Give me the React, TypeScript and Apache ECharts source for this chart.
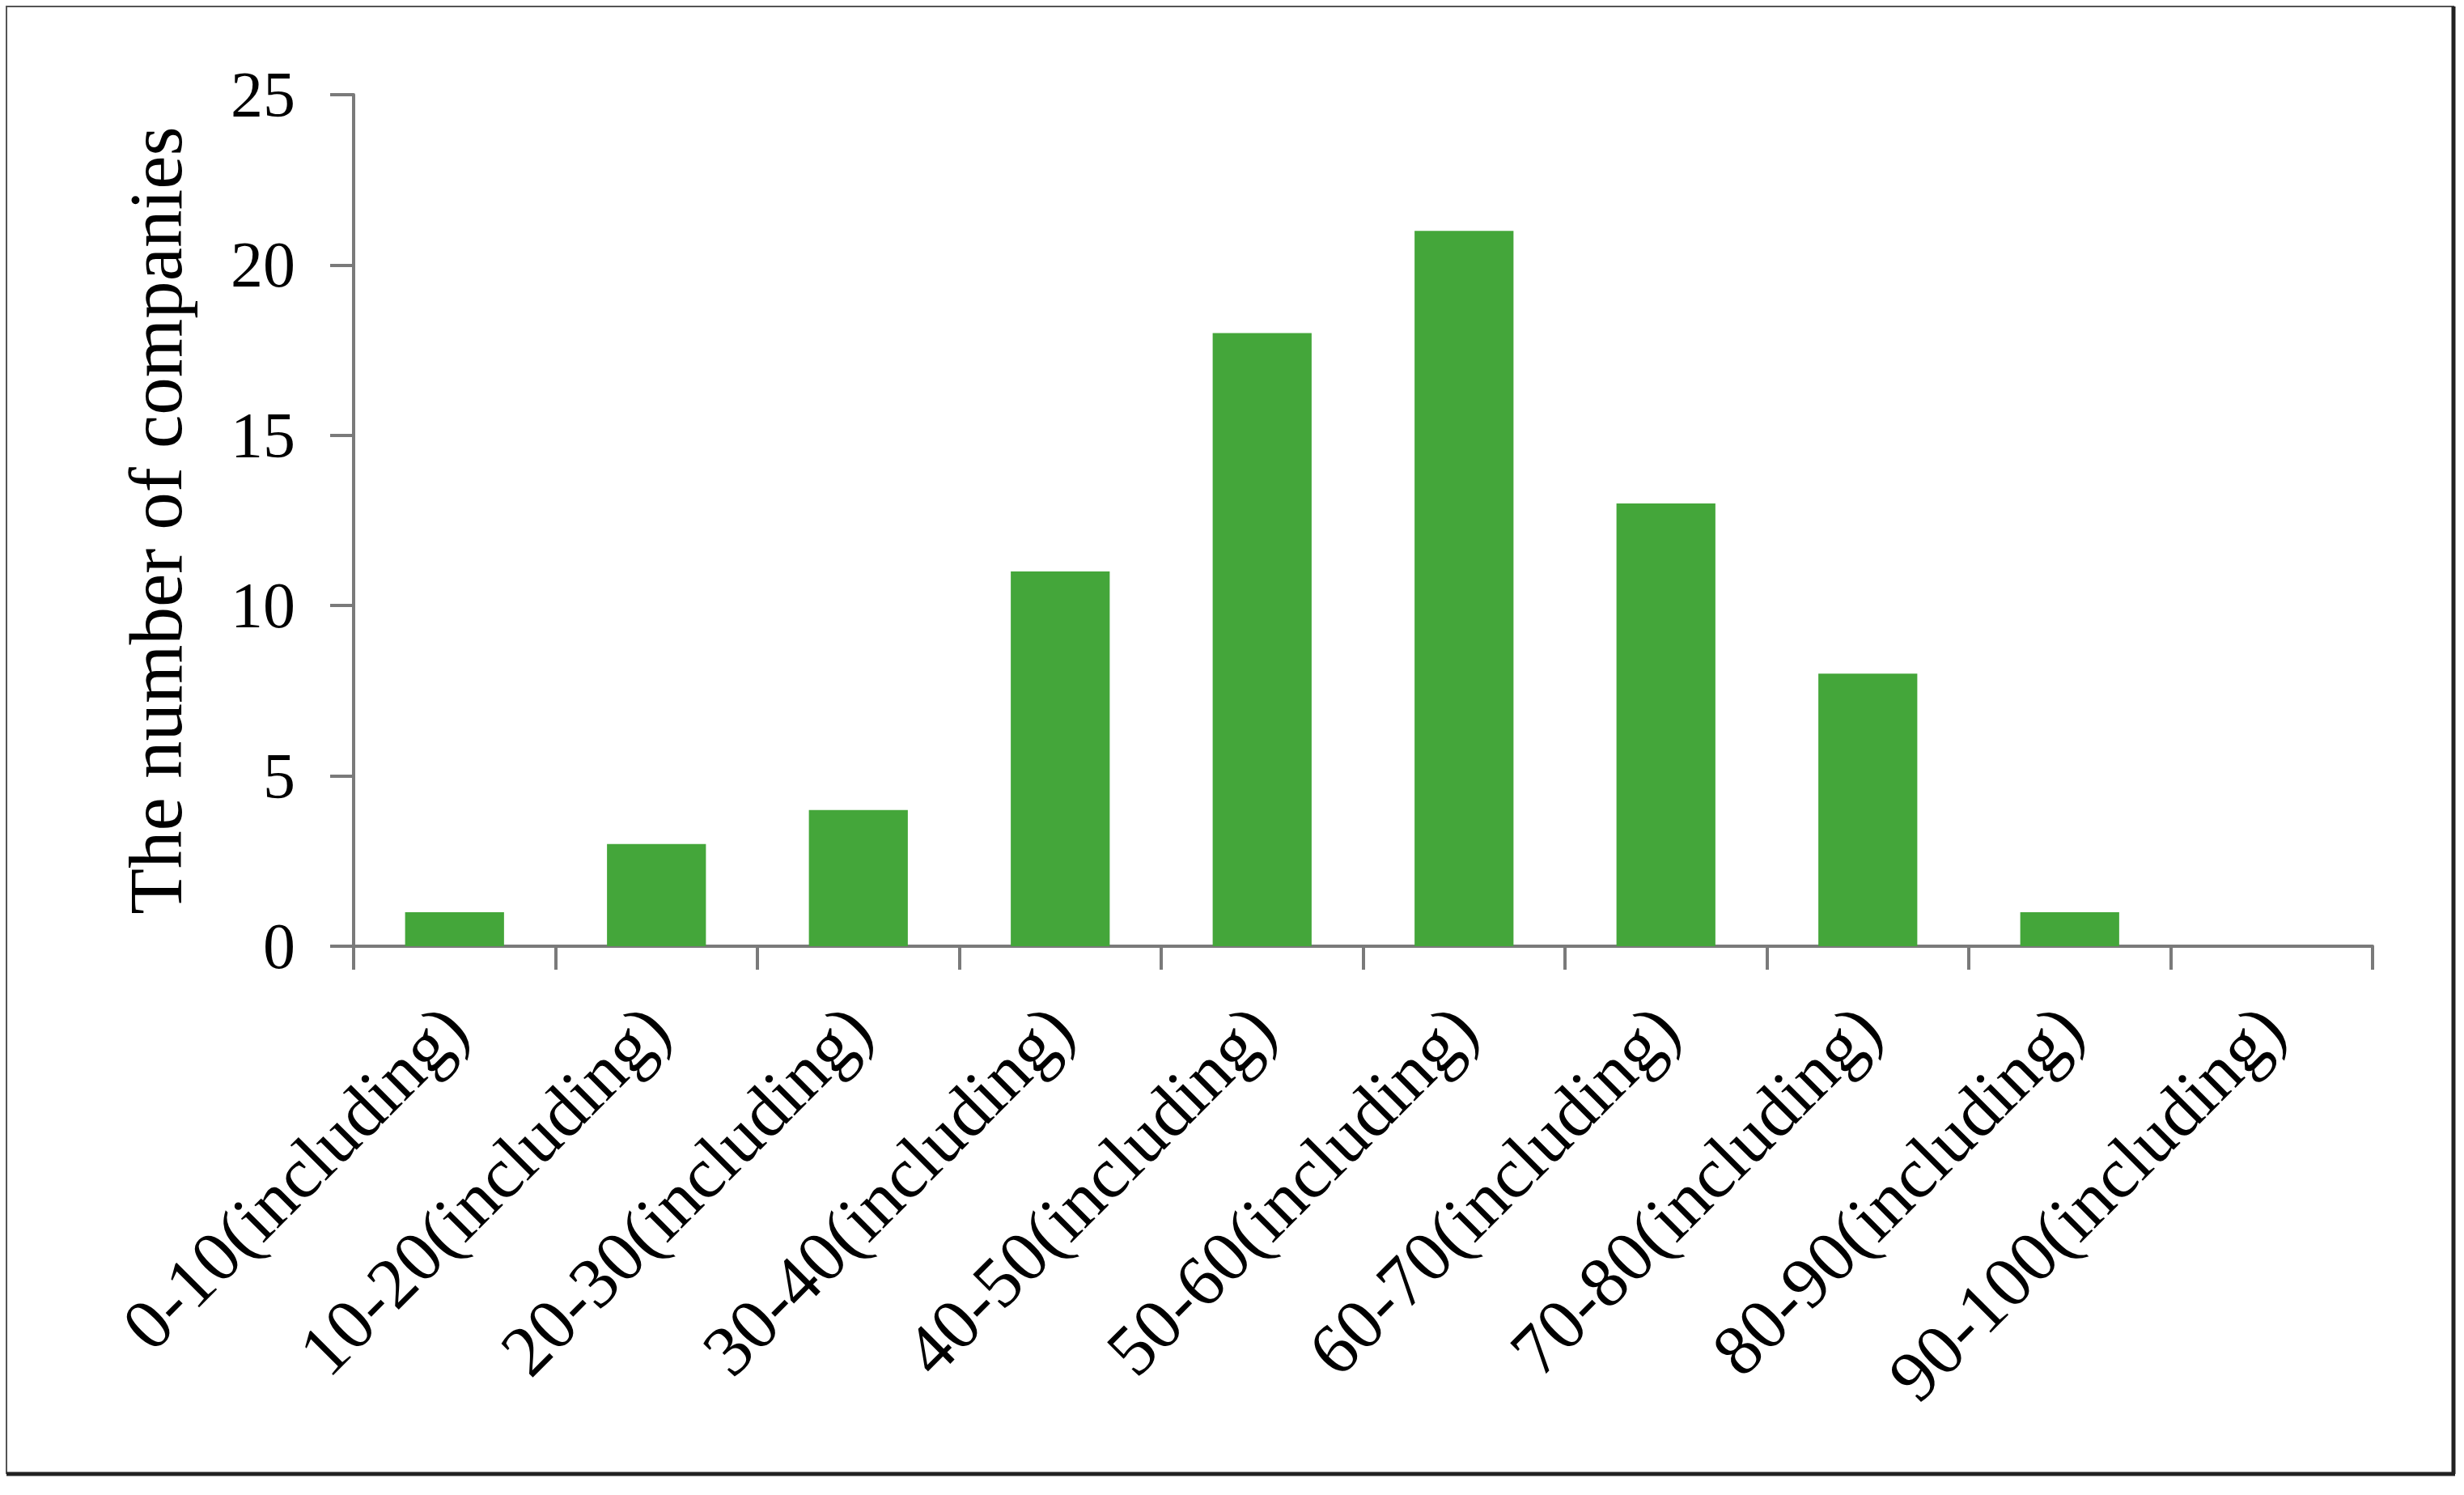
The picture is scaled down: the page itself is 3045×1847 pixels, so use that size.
import React, { useEffect, useRef } from "react";
import * as echarts from "echarts";

const categories = [
  "0-10(including)",
  "10-20(including)",
  "20-30(including)",
  "30-40(including)",
  "40-50(including)",
  "50-60(including)",
  "60-70(including)",
  "70-80(including)",
  "80-90(including)",
  "90-100(including)",
];
const companyCounts = [1, 3, 4, 11, 18, 21, 13, 8, 1, 0];
const yMin = 0;
const yMax = 25;
const yInterval = 5;
const yAxisTitle = "The number of companies";

const FONT = "Liberation Serif";

export default function App() {
  const ref = useRef<HTMLDivElement>(null);
  useEffect(() => {
    const chart = echarts.init(ref.current!, null, { renderer: "svg" });
    chart.setOption({
      animation: false,
      backgroundColor: "#ffffff",
      grid: { left: 437, right: 113, top: 117, bottom: 678, containLabel: false },
      xAxis: {
        type: "category",
        data: categories,
        boundaryGap: true,
        axisLine: { lineStyle: { color: "#7a7a7a", width: 4 } },
        axisTick: { show: true, length: 29, alignWithLabel: false, lineStyle: { color: "#7a7a7a", width: 4 } },
        axisLabel: {
          interval: 0,
          rotate: 45,
          margin: 88,
          color: "#000",
          fontFamily: FONT,
          fontSize: 89,
        },
      },
      yAxis: {
        type: "value",
        min: yMin,
        max: yMax,
        interval: yInterval,
        name: yAxisTitle,
        nameLocation: "middle",
        nameRotate: 90,
        nameGap: 198,
        nameTextStyle: { color: "#000", fontFamily: FONT, fontSize: 93 },
        axisLine: { show: true, lineStyle: { color: "#7a7a7a", width: 4 } },
        axisTick: { show: true, length: 29, lineStyle: { color: "#7a7a7a", width: 4 } },
        axisLabel: { margin: 72, color: "#000", fontFamily: FONT, fontSize: 80 },
        splitLine: { show: false },
      },
      series: [
        {
          type: "bar",
          data: companyCounts,
          barWidth: "49%",
          itemStyle: { color: "#44a63a" },
        },
      ],
      graphic: [
        {
          type: "rect",
          shape: { x: 8, y: 8, width: 3024, height: 1812 },
          style: { fill: "none", stroke: "#555", lineWidth: 2 },
          silent: true,
        },
        {
          type: "line",
          shape: { x1: 3032, y1: 8, x2: 3032, y2: 1821 },
          style: { stroke: "#222", lineWidth: 5 },
          silent: true,
        },
        {
          type: "line",
          shape: { x1: 8, y1: 1821, x2: 3034, y2: 1821 },
          style: { stroke: "#222", lineWidth: 5 },
          silent: true,
        },
      ],
    });
    return () => chart.dispose();
  }, []);
  return (
    <div
      ref={ref}
      style={{ position: "absolute", left: 0, top: 0, width: 3045, height: 1847, background: "#fff" }}
    />
  );
}
